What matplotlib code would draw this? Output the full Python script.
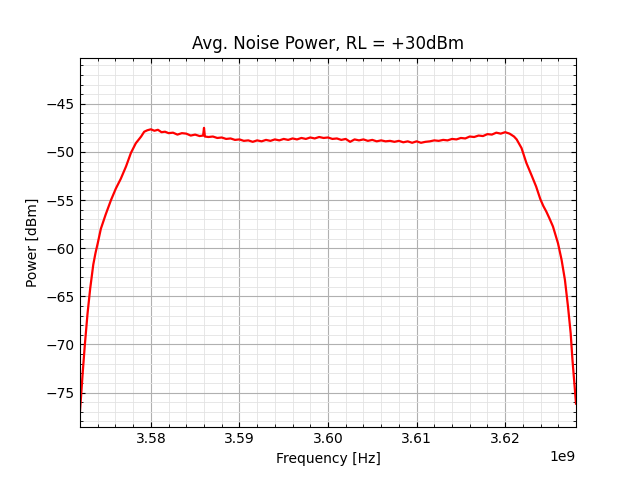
import matplotlib
matplotlib.use("Agg")
import matplotlib.pyplot as plt
import numpy as np

# =========================
# 数据（频率偏移 MHz，相对 3.6 GHz）
# =========================
center_hz = 3.6e9
offset_mhz = [
    -28.0, -27.85, -27.7, -27.45, -27.15, -26.85, -26.5, -26.25, -26.0, -25.65, -25.1,
    -24.5, -23.95, -23.4, -22.8, -22.25, -21.7, -21.1, -20.75, -20.4, -20.0,
    -19.6, -19.2, -18.8, -18.4, -18.0, -17.5, -17.0, -16.5, -16.0, -15.5,
    -15.0, -14.5, -14.1, -14.0, -13.9, -13.5, -13.0, -12.5, -12.0, -11.5,
    -11.0, -10.5, -10.0, -9.5, -9.0, -8.5, -8.0, -7.5, -7.0, -6.5,
    -6.0, -5.5, -5.0, -4.5, -4.0, -3.5, -3.0, -2.5, -2.0, -1.5,
    -1.0, -0.5, 0.0, 0.5, 1.0, 1.5, 2.0, 2.5, 3.0, 3.5,
    4.0, 4.5, 5.0, 5.5, 6.0, 6.5, 7.0, 7.5, 8.0, 8.5,
    9.0, 9.5, 10.0, 10.5, 11.0, 11.5, 12.0, 12.5, 13.0, 13.5,
    14.0, 14.5, 15.0, 15.5, 16.0, 16.5, 17.0, 17.5, 18.0, 18.5,
    19.0, 19.5, 20.0, 20.5, 21.0, 21.3, 21.85, 22.4, 22.97, 23.5,
    23.97, 24.3, 24.65, 25.0, 25.4, 25.97, 26.37, 26.75, 27.1, 27.4, 27.6, 27.85,
    28.0,
]
power_dbm = [
    -76.9, -75.0, -73.0, -70.0, -66.8, -64.2, -61.7, -60.5, -59.5, -58.0, -56.5,
    -55.0, -53.8, -52.8, -51.5, -50.1, -49.1, -48.4, -47.9, -47.75, -47.65,
    -47.8, -47.7, -47.95, -47.9, -48.05, -48.0, -48.2, -48.05, -48.1, -48.3,
    -48.2, -48.35, -48.3, -47.5, -48.4, -48.45, -48.4, -48.55, -48.5, -48.65,
    -48.6, -48.75, -48.7, -48.85, -48.8, -48.95, -48.8, -48.9, -48.75, -48.85,
    -48.7, -48.8, -48.65, -48.75, -48.6, -48.7, -48.55, -48.65, -48.5, -48.6,
    -48.45, -48.55, -48.5, -48.65, -48.6, -48.75, -48.65, -48.95, -48.7, -48.8,
    -48.7, -48.85, -48.75, -48.9, -48.8, -48.9, -48.85, -48.95, -48.85, -49.0,
    -48.9, -49.05, -48.9, -49.05, -48.95, -48.9, -48.8, -48.85, -48.75, -48.8,
    -48.65, -48.7, -48.55, -48.6, -48.4, -48.45, -48.3, -48.35, -48.15, -48.2,
    -48.0, -48.1, -47.95, -48.1, -48.4, -48.7, -49.6, -51.15, -52.4, -53.6,
    -54.9, -55.6, -56.2, -56.9, -57.75, -59.5, -61.2, -63.3, -66.1, -68.85, -71.6, -74.4,
    -76.15,
]

freq_hz = center_hz + np.array(offset_mhz) * 1e6

# =========================
# 绘图
# =========================
fig, ax = plt.subplots(figsize=(6.4, 4.8), dpi=100)
ax.plot(freq_hz, power_dbm, color="red", linewidth=1.6)

ax.set_xlim(freq_hz[0], freq_hz[-1])
ax.set_ylim(-78.6, -40.2)
ax.set_title("Avg. Noise Power, RL = +30dBm")
ax.set_xlabel("Frequency [Hz]")
ax.set_ylabel("Power [dBm]")

ax.minorticks_on()
ax.grid(which="major", color="#b0b0b0", linewidth=0.8)
ax.grid(which="minor", color="#e3e3e3", linewidth=0.6)
ax.tick_params(which="both", direction="in", top=True, right=True)

plt.savefig("out.png")
plt.close()
